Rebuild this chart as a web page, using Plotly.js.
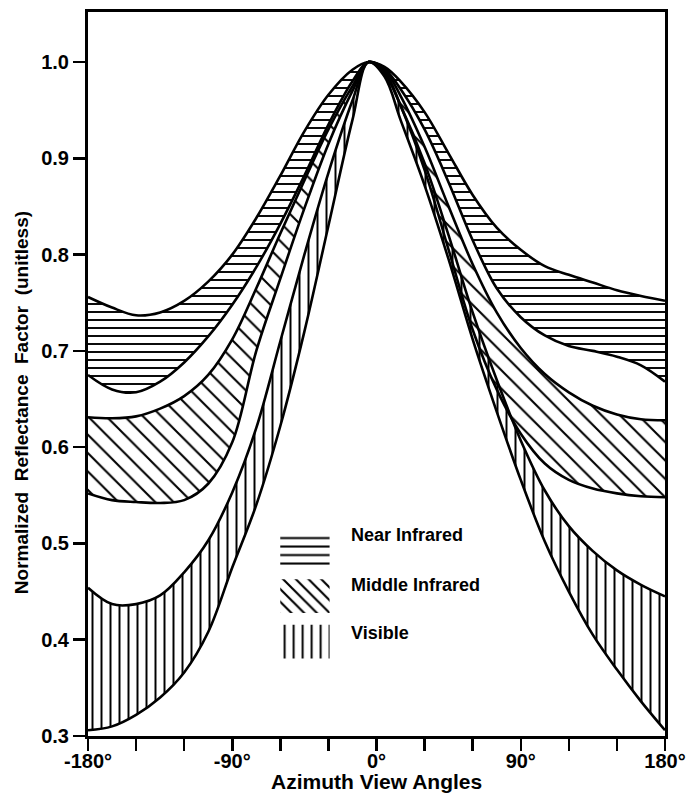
<!DOCTYPE html>
<html><head><meta charset="utf-8">
<script src="https://cdn.plot.ly/plotly-3.0.1.min.js"></script>
<style>html,body{margin:0;padding:0;background:#fff}</style>
</head><body><div id="chart" style="width:698px;height:801px"></div>
<script>
// Azimuth view angles (degrees)
const angles = [-180,-165,-150,-135,-120,-105,-90,-75,-60,-45,-30,-15,-5,5,15,30,45,60,75,90,105,120,135,150,165,180];
// Near Infrared band
const nirUpper = [0.756,0.745,0.737,0.740,0.752,0.772,0.800,0.838,0.882,0.928,0.966,0.992,1.0,0.995,0.980,0.948,0.905,0.862,0.828,0.805,0.788,0.779,0.771,0.763,0.757,0.752];
const nirLower = [0.675,0.660,0.657,0.668,0.688,0.715,0.748,0.787,0.832,0.882,0.935,0.980,1.0,0.993,0.972,0.930,0.875,0.815,0.765,0.735,0.716,0.705,0.700,0.694,0.685,0.668];
// Middle Infrared band
const mirUpper = [0.631,0.630,0.632,0.640,0.653,0.675,0.712,0.765,0.822,0.877,0.930,0.975,1.0,0.992,0.965,0.912,0.850,0.790,0.740,0.703,0.676,0.657,0.643,0.634,0.629,0.628];
const mirLower = [0.552,0.545,0.543,0.542,0.545,0.562,0.605,0.700,0.775,0.848,0.915,0.970,1.0,0.990,0.955,0.888,0.805,0.722,0.660,0.614,0.583,0.566,0.557,0.552,0.549,0.548];
// Visible band
const visUpper = [0.454,0.437,0.437,0.446,0.470,0.503,0.553,0.620,0.710,0.800,0.885,0.960,1.0,0.988,0.955,0.895,0.820,0.740,0.670,0.607,0.555,0.518,0.492,0.472,0.457,0.445];
const visLower = [0.306,0.310,0.322,0.340,0.366,0.408,0.475,0.540,0.622,0.720,0.830,0.940,1.0,0.985,0.940,0.872,0.795,0.712,0.637,0.566,0.502,0.450,0.405,0.369,0.336,0.306];

const bandNames = ['Near Infrared','Middle Infrared','Visible'];
const xTickVals = [-180,-150,-120,-90,-60,-30,0,30,60,90,120,150,180];
const xTickText = ['-180°','','','-90°','','','0°','','','90°','','','180°'];
const yTickVals = [0.3,0.4,0.5,0.6,0.7,0.8,0.9,1.0];
const yTickText = ['0.3','0.4','0.5','0.6','0.7','0.8','0.9','1.0'];

const bands = [
  {name: bandNames[0], lower: nirLower, upper: nirUpper, pat: {shape:'-', size:8, solidity:0.24}, legPat: {shape:'-', size:8.5, solidity:0.24}},
  {name: bandNames[1], lower: mirLower, upper: mirUpper, pat: {shape:'\\', size:13, solidity:0.16}, legPat: {shape:'\\', size:9, solidity:0.24}},
  {name: bandNames[2], lower: visLower, upper: visUpper, pat: {shape:'|', size:9, solidity:0.22}, legPat: {shape:'|', size:9, solidity:0.22}}
];

const lineStyle = {color:'black', width:2.6, shape:'spline', smoothing:1};
const traces = [];
bands.forEach(b => {
  traces.push({x: angles, y: b.lower, type:'scatter', mode:'lines', line: lineStyle, showlegend:false, hoverinfo:'skip'});
  traces.push({x: angles, y: b.upper, type:'scatter', mode:'lines', line: lineStyle, fill:'tonexty',
    fillcolor:'rgba(255,255,255,0)',
    fillpattern: Object.assign({fgcolor:'black', bgcolor:'rgba(255,255,255,0)', fgopacity:1}, b.pat),
    showlegend:false, hoverinfo:'skip', name: b.name});
});

// legend swatches on an auxiliary hidden axis
const swatchRows = [2, 1, 0];
bands.forEach((b, i) => {
  const r = swatchRows[i];
  traces.push({x:[0,1,1,0,0], y:[r+0.08, r+0.08, r+0.82, r+0.82, r+0.08], xaxis:'x2', yaxis:'y2',
    type:'scatter', mode:'lines', line:{width:0, color:'rgba(0,0,0,0)'}, fill:'toself',
    fillcolor:'rgba(255,255,255,0)',
    fillpattern: Object.assign({fgcolor:'black', bgcolor:'rgba(255,255,255,0)', fgopacity:1}, b.legPat),
    showlegend:false, hoverinfo:'skip'});
});

const fontFam = '"Liberation Sans", Arial, Helvetica, sans-serif';
const legendLabelY = [0.278, 0.2086, 0.142];
const annotations = bands.map((b, i) => ({
  text: '<b>' + b.name + '</b>', xref:'paper', yref:'paper', x: 0.452, y: legendLabelY[i],
  xanchor:'left', yanchor:'middle', showarrow:false, font:{family:fontFam, size:18, color:'black'}
}));
annotations.push({text:'<b>Normalized  Reflectance  Factor  (unitless)</b>', xref:'paper', yref:'paper',
  x:-0.114, y:0.46, textangle:-90, showarrow:false, xanchor:'center', yanchor:'middle',
  font:{family:fontFam, size:19, color:'black'}});
annotations.push({text:'<b>Azimuth View Angles</b>', xref:'paper', yref:'paper',
  x:0.5, y:-0.0622, showarrow:false, xanchor:'center', yanchor:'middle',
  font:{family:fontFam, size:21, color:'black'}});

const layout = {
  width:698, height:801,
  margin:{l:88, r:33, t:12, b:65},
  paper_bgcolor:'white', plot_bgcolor:'white',
  showlegend:false,
  font:{family:fontFam, color:'black'},
  xaxis:{range:[-180,180], tickvals:xTickVals, ticktext:xTickText, ticks:'outside', ticklen:12, tickwidth:2.5,
    tickcolor:'black', showline:true, linecolor:'black', linewidth:3, mirror:true, showgrid:false, zeroline:false,
    ticklabelstandoff:-7,
    tickfont:{family:fontFam, size:20, color:'black', weight:'bold'}},
  yaxis:{range:[0.3,1.052], tickvals:yTickVals, ticktext:yTickText, ticks:'outside', ticklen:12, tickwidth:2.5,
    tickcolor:'black', showline:true, linecolor:'black', linewidth:3, mirror:true, showgrid:false, zeroline:false,
    tickfont:{family:fontFam, size:20, color:'black', weight:'bold'}},
  xaxis2:{domain:[0.333,0.419], range:[0,1], visible:false, anchor:'y2', fixedrange:true},
  yaxis2:{domain:[0.102,0.291], range:[0,3], visible:false, anchor:'x2', fixedrange:true},
  annotations: annotations
};

Plotly.newPlot('chart', traces, layout, {staticPlot:true, displayModeBar:false});
</script>
</body></html>
